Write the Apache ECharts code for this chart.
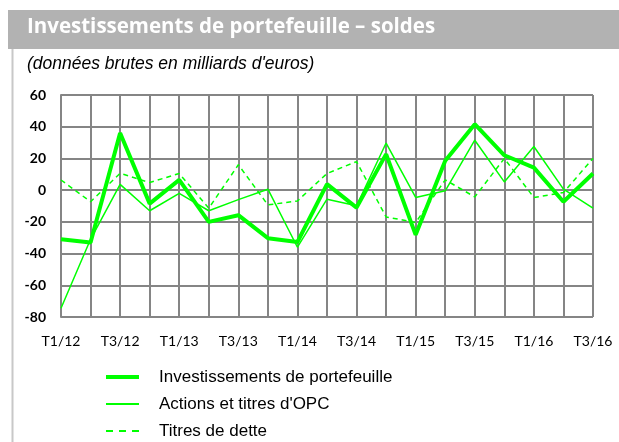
<!DOCTYPE html>
<html>
<head>
<meta charset="utf-8">
<script src="https://cdn.jsdelivr.net/npm/echarts@6/dist/echarts.min.js"></script>
<style>
  html, body { margin: 0; padding: 0; background: #fff; }
  #chart { width: 619px; height: 442px; }
</style>
</head>
<body>
<div id="chart"></div>
<script>
// quarters, T1/12 .. T3/16
const quarters = [
  'T1/12', 'T2/12', 'T3/12', 'T4/12',
  'T1/13', 'T2/13', 'T3/13', 'T4/13',
  'T1/14', 'T2/14', 'T3/14', 'T4/14',
  'T1/15', 'T2/15', 'T3/15', 'T4/15',
  'T1/16', 'T2/16', 'T3/16'
]
const investissements = [-31, -33, 36, -8.5, 6.5, -20, -15.8, -30.3, -32.7, 3.8, -11, 22.7, -28.2, 18.5, 41.6, 22, 14.2, -7.3, 10.5]
const actions = [-74.5, -31, 3.6, -13, -2.1, -13, -6, 0.6, -36, -5.7, -9.9, 29.7, -4.6, -0.4, 31.5, 5.2, 27.5, 0.6, -11.4]
const titresDette = [6.4, -7.3, 10.6, 4.8, 10.5, -11.4, 16, -9.3, -6.8, 10.5, 18, -16.9, -20.4, 6.5, -4.3, 20, -4.7, -1.5, 20]

const seriesNames = ['Investissements de portefeuille', "Actions et titres d'OPC", 'Titres de dette']

const green = '#00ff00'
const gridColor = '#858585'

const chart = echarts.init(document.getElementById('chart'))

// one legend per row so the three entries stay stacked
const legendIcons = [
  { icon: 'path://M0,0h33v4h-33z', h: 4 },
  { icon: 'path://M0,0h33v2h-33z', h: 2 },
  { icon: 'path://M0,0h7v2h-7zM13,0h7v2h-7zM26,0h7v2h-7z', h: 2 }
]
const legendRows = [377, 404, 431]

const legends = seriesNames.map((name, i) => ({
  data: [{ name: name, icon: legendIcons[i].icon }],
  left: 106,
  top: legendRows[i] - 9,
  padding: 0,
  itemWidth: 33,
  itemHeight: legendIcons[i].h,
  selectedMode: false,
  textStyle: {
    fontFamily: 'Liberation Sans',
    fontSize: 17,
    lineHeight: 18,
    color: '#000',
    padding: [0, 0, 0, 15]
  }
}))

const option = {
  animation: false,
  backgroundColor: '#fff',
  graphic: [
    {
      type: 'rect',
      shape: { x: 8, y: 10, width: 611, height: 39 },
      style: { fill: '#b2b2b2' },
      silent: true
    },
    {
      type: 'text',
      left: 27,
      top: 17,
      style: {
        text: 'Investissements de portefeuille – soldes',
        fill: '#fff',
        font: 'bold 20.5px "Open Sans"'
      }
    },
    {
      type: 'line',
      shape: { x1: 12.5, y1: 49, x2: 12.5, y2: 442 },
      style: { stroke: '#c8c8c8', lineWidth: 2 },
      silent: true
    },
    {
      type: 'text',
      left: 27,
      top: 55,
      style: {
        text: "(données brutes en milliards d'euros)",
        fill: '#000',
        font: 'italic 17.5px "Liberation Sans"'
      }
    }
  ],
  grid: {
    left: 61,
    right: 26,
    top: 95,
    bottom: 125,
    containLabel: false
  },
  legend: legends,
  xAxis: {
    type: 'category',
    data: quarters,
    boundaryGap: false,
    axisLine: { lineStyle: { color: gridColor, width: 2 } },
    axisTick: { show: false },
    axisLabel: {
      interval: 1,
      margin: 17,
      color: '#000',
      fontFamily: 'Lato',
      fontSize: 14
    },
    splitLine: {
      show: true,
      interval: 0,
      lineStyle: { color: gridColor, width: 2 }
    }
  },
  yAxis: {
    type: 'value',
    min: -80,
    max: 60,
    interval: 20,
    axisLine: { show: true, lineStyle: { color: gridColor, width: 2 } },
    axisTick: { show: false },
    axisLabel: {
      margin: 15,
      color: '#000',
      fontFamily: 'Lato',
      fontWeight: 'bold',
      fontSize: 14
    },
    splitLine: { lineStyle: { color: gridColor, width: 2 } }
  },
  series: [
    {
      name: seriesNames[0],
      type: 'line',
      data: investissements,
      symbol: 'none',
      z: 4,
      lineStyle: { color: green, width: 4 },
      itemStyle: { color: green }
    },
    {
      name: seriesNames[1],
      type: 'line',
      data: actions,
      symbol: 'none',
      z: 3,
      lineStyle: { color: green, width: 1.5 },
      itemStyle: { color: green }
    },
    {
      name: seriesNames[2],
      type: 'line',
      data: titresDette,
      symbol: 'none',
      z: 2,
      lineStyle: { color: green, width: 1.5, type: [5, 4] },
      itemStyle: { color: green }
    }
  ]
}

chart.setOption(option)
</script>
</body>
</html>
